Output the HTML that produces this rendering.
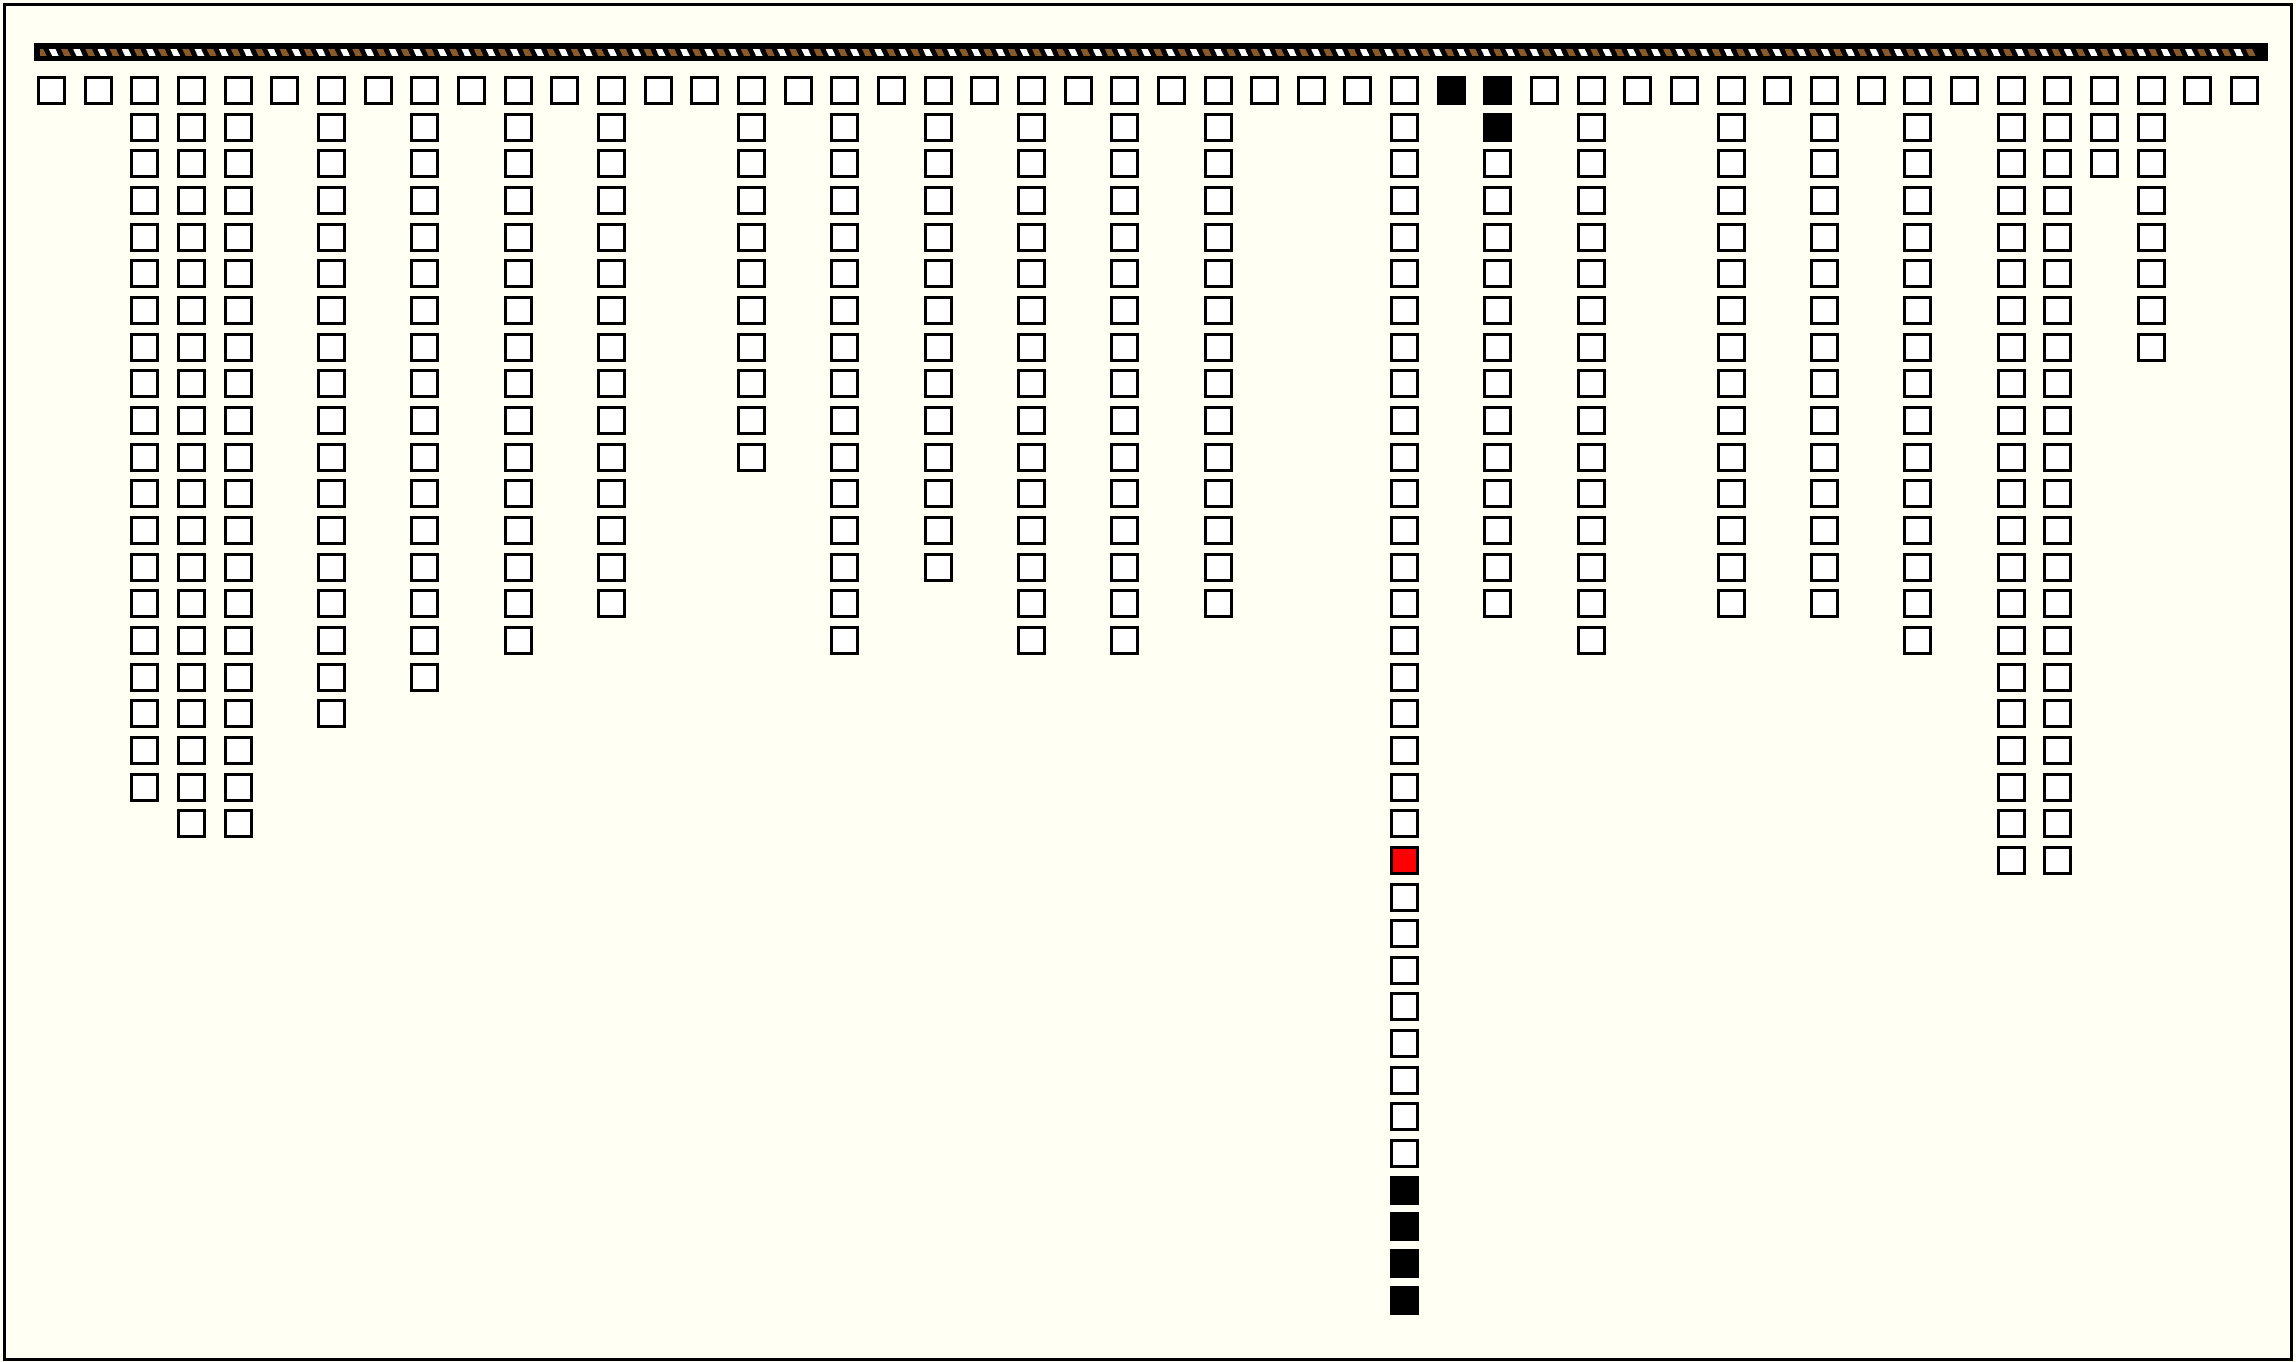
<!DOCTYPE html>
<html><head><meta charset="utf-8"><style>
html,body{margin:0;padding:0;width:2296px;height:1362px;overflow:hidden;background:#fffff4;}
#frame{position:absolute;left:3px;top:3px;width:2284px;height:1352px;border:3px solid #000;background:#fffff4;}
#bar{position:absolute;left:34px;top:43px;width:2234px;height:18px;background:#000;}
#stripes{position:absolute;left:6px;top:6px;width:2218px;height:7px;
background:repeating-linear-gradient(65deg,#8b5a2b 0 6px,#000 6px 11px,#fff 11px 17px,#000 17px 22px);}
.b{position:absolute;width:23px;height:23px;border:3px solid #000;background:#fff;box-sizing:content-box;}
.k{background:#000;}
.r{background:#f00;}
</style></head><body>
<div id="frame"></div>
<div id="bar"><div id="stripes"></div></div>
<div id="boxes"></div>
<script>
var lens=[1,1,20,21,21,1,18,1,17,1,16,1,15,1,1,11,1,16,1,14,1,16,1,16,1,15,1,1,1,34,1,15,1,16,1,1,15,1,15,1,16,1,22,22,3,8,1,1];
var h='';
for(var c=0;c<lens.length;c++){
  var x=Math.round(37+c*46.66);
  for(var r=0;r<lens[c];r++){
    var y=Math.round(76+r*36.66);
    var cls='b';
    if(c==29&&r==21)cls+=' r';
    if(c==29&&r>=30)cls+=' k';
    if(c==30)cls+=' k';
    if(c==31&&r<2)cls+=' k';
    h+='<div class="'+cls+'" style="left:'+x+'px;top:'+y+'px"></div>';
  }
}
document.getElementById('boxes').innerHTML=h;
</script>
</body></html>
